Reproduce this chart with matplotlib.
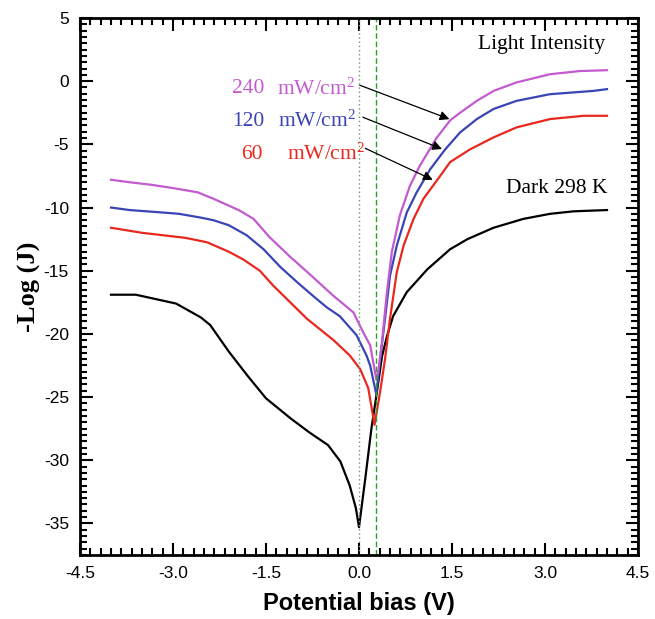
import matplotlib
matplotlib.use("Agg")
import matplotlib.pyplot as plt
from matplotlib.ticker import MultipleLocator

# Data
v_dark = [-4.0, -3.6, -2.95, -2.55, -2.4, -2.1, -1.8, -1.5, -1.1, -0.8, -0.5, -0.3, -0.15, -0.05, 0.0,
          0.1, 0.2, 0.28, 0.37, 0.45, 0.55, 0.77, 1.1, 1.47, 1.75, 2.17, 2.65, 3.08, 3.46, 4.0]
j_dark = [-16.9, -16.9, -17.6, -18.7, -19.3, -21.4, -23.3, -25.1, -26.7, -27.8, -28.8, -30.1, -32.0, -33.8, -35.3,
          -31.5, -27.5, -24.9, -21.8, -20.2, -18.6, -16.7, -14.9, -13.3, -12.5, -11.6, -10.9, -10.5, -10.3, -10.2]

v_60 = [-4.0, -3.5, -3.15, -2.8, -2.45, -2.1, -1.87, -1.6, -1.38, -1.11, -0.84, -0.41, -0.15, 0.02, 0.15, 0.25,
        0.34, 0.42, 0.5, 0.61, 0.72, 0.88, 1.04, 1.25, 1.47, 1.79, 2.17, 2.54, 3.08, 3.62, 4.0]
j_60 = [-11.6, -12.0, -12.2, -12.4, -12.75, -13.5, -14.1, -15.0, -16.2, -17.5, -18.8, -20.5, -21.7, -22.8, -24.3, -27.2,
        -24.6, -22.0, -18.8, -15.1, -13.0, -10.9, -9.3, -7.9, -6.4, -5.4, -4.45, -3.66, -3.0, -2.74, -2.74]

v_120 = [-4.0, -3.7, -3.15, -2.9, -2.55, -2.35, -2.1, -1.81, -1.54, -1.27, -1.0, -0.74, -0.52, -0.31, -0.04, 0.12, 0.18, 0.28,
         0.34, 0.42, 0.5, 0.61, 0.77, 0.93, 1.15, 1.39, 1.63, 1.9, 2.17, 2.54, 3.08, 3.78, 4.0]
j_120 = [-10.0, -10.2, -10.4, -10.5, -10.8, -11.0, -11.4, -12.2, -13.3, -14.7, -15.9, -17.0, -17.9, -18.6, -20.1, -21.7, -22.5, -24.8,
         -22.0, -18.8, -15.4, -13.0, -10.4, -8.8, -6.96, -5.4, -4.06, -3.0, -2.2, -1.56, -1.03, -0.77, -0.63]

v_240 = [-4.0, -3.7, -3.35, -2.95, -2.6, -2.35, -2.1, -1.92, -1.7, -1.44, -1.11, -0.79, -0.41, -0.09, 0.07, 0.18, 0.28,
         0.31, 0.37, 0.45, 0.53, 0.66, 0.82, 0.98, 1.25, 1.47, 1.63, 1.9, 2.17, 2.54, 3.08, 3.56, 4.0]
j_240 = [-7.8, -8.0, -8.2, -8.5, -8.8, -9.3, -9.85, -10.25, -10.9, -12.36, -13.9, -15.3, -17.0, -18.3, -19.9, -20.9, -23.6,
         -23.0, -20.7, -16.7, -13.5, -10.6, -8.3, -6.7, -4.5, -3.1, -2.5, -1.56, -0.77, -0.1, 0.55, 0.8, 0.87]

x_ticks = [-4.5, -3.0, -1.5, 0.0, 1.5, 3.0, 4.5]
y_ticks = [5, 0, -5, -10, -15, -20, -25, -30, -35]

plt.rcParams['font.family'] = ['Liberation Sans', 'DejaVu Sans']
plt.rcParams['axes.unicode_minus'] = False
plt.rcParams['mathtext.fontset'] = 'custom'
plt.rcParams['mathtext.rm'] = 'Liberation Serif'
plt.rcParams['mathtext.it'] = 'Liberation Serif'
plt.rcParams['mathtext.default'] = 'rm'

fig = plt.figure(figsize=(6.55, 6.19), dpi=100)
ax = fig.add_axes([80/655, (619-555)/619, (638-80)/655, (555-18)/619])

ax.plot(v_dark, j_dark, color='black', lw=1.6)
ax.plot(v_60, j_60, color='#e8281e', lw=1.6)
ax.plot(v_120, j_120, color='#3a45b5', lw=1.6)
ax.plot(v_240, j_240, color='#c35ad0', lw=1.6)

ax.axvline(0.0, color='#6a9a6a', lw=1.0, ls=(0, (1, 2)))
ax.axvline(0.27, color='#2ca02c', lw=1.0, ls=(0, (4, 2)))

ax.set_xlim(-4.5, 4.5)
ax.set_ylim(-37.5, 5)
ax.set_xticks(x_ticks)
ax.set_xticklabels([f"{t:.1f}" for t in x_ticks])
ax.set_yticks(y_ticks)
ax.xaxis.set_minor_locator(MultipleLocator(1.5/9))
ax.yaxis.set_minor_locator(MultipleLocator(0.5))
ax.tick_params(which='both', direction='in', top=True, right=True, labelsize=12.5, width=1.5)
ax.tick_params(which='major', length=9, pad=8)
ax.tick_params(which='minor', length=5)
for s in ax.spines.values():
    s.set_linewidth(2)

ax.set_xlabel('Potential bias (V)', fontsize=17, fontweight='bold', labelpad=8)
ax.set_ylabel('-Log (J)', fontsize=19, fontweight='bold', family='Liberation Serif', labelpad=2)

serif = 'Liberation Serif'
fs = 15.5
ax.text(3.97, 2.9, 'Light Intensity', family=serif, fontsize=fs, ha='right', va='center')
ax.text(4.0, -8.5, 'Dark 298 K', family=serif, fontsize=fs, ha='right', va='center')

ax.text(-1.52, -0.6, '240', family=serif, fontsize=fs, color='#c35ad0', ha='right', va='center')
ax.text(-1.32, -0.6, r'mW/cm$^{2}$', family=serif, fontsize=fs, color='#c35ad0', ha='left', va='center')
ax.text(-1.52, -3.2, '120', family=serif, fontsize=fs, color='#3a45b5', ha='right', va='center')
ax.text(-1.3, -3.2, r'mW/cm$^{2}$', family=serif, fontsize=fs, color='#3a45b5', ha='left', va='center')
ax.text(-1.56, -5.8, '60', family=serif, fontsize=fs, color='#e8281e', ha='right', va='center')
ax.text(-1.16, -5.8, r'mW/cm$^{2}$', family=serif, fontsize=fs, color='#e8281e', ha='left', va='center')

arrows = [((-0.03, -0.24), (1.50, -3.08)), ((0.02, -2.77), (1.38, -5.45)), ((0.06, -5.22), (1.23, -7.9))]
for (s, e) in arrows:
    ax.annotate('', xy=e, xytext=s, arrowprops=dict(arrowstyle='-|>', color='black', lw=0.9, mutation_scale=14))

fig.savefig('out.png', dpi=100)
